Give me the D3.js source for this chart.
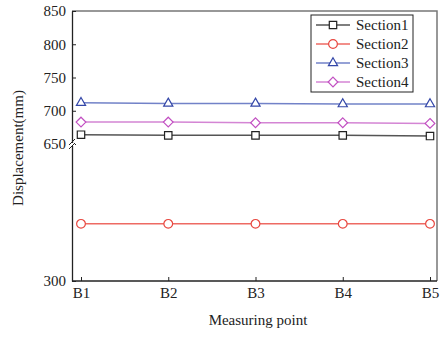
<!DOCTYPE html>
<html>
<head>
<meta charset="utf-8">
<script src="https://cdn.jsdelivr.net/npm/d3@7"></script>
<style>
  body { margin: 0; background: #fff; }
</style>
</head>
<body>
<svg width="444" height="339"></svg>
<script>
const points = ["B1", "B2", "B3", "B4", "B5"];
const section1 = [664, 663, 663, 663, 662];
const section2 = [446, 446, 446, 446, 446];
const section3 = [712, 711, 711, 710, 710];
const section4 = [683, 683, 682, 682, 681];
const upperTicks = [650, 700, 750, 800, 850];
const lowerTicks = [300];

const serif = "'Liberation Serif', 'Times New Roman', serif";

const series = [
  { name: "Section1", values: section1, color: "#222", line: "#555", shape: d3.symbolSquare, size: 55 },
  { name: "Section2", values: section2, color: "#e8473f", line: "#ee6a63", shape: d3.symbolCircle, size: 60 },
  { name: "Section3", values: section3, color: "#3447a8", line: "#7282c8", shape: d3.symbolTriangle2, size: 60 },
  { name: "Section4", values: section4, color: "#c24fc2", line: "#d485d4", shape: d3.symbolDiamond2, size: 60 },
];

const plotLeft = 72, plotRight = 437, plotTop = 11, plotBottom = 281, breakY = 144;

const svg = d3.select("svg");

const x = d3.scalePoint().domain(points).range([81, 430]);
const yUp = d3.scaleLinear().domain([650, 850]).range([breakY, plotTop]);
const yLow = d3.scaleLinear().domain([300, 650]).range([plotBottom, breakY]);
const y = (v) => (v >= 650 ? yUp(v) : yLow(v));

const styleAxis = (g) => {
  g.attr("font-family", serif);
  g.select(".domain").attr("stroke", "#222").attr("stroke-width", 1.3);
  g.selectAll(".tick line").attr("stroke", "#222");
  g.selectAll("text").attr("font-size", 15).attr("fill", "#222").attr("font-family", serif);
};

// frame: top and right in grey
svg.append("path")
  .attr("d", `M${plotLeft},${plotTop}H${plotRight}V${plotBottom}`)
  .attr("fill", "none")
  .attr("stroke", "#777")
  .attr("stroke-width", 1.5);

// x axis
svg.append("g")
  .attr("transform", `translate(0,${plotBottom})`)
  .call(d3.axisBottom(x).tickSizeInner(-4).tickSizeOuter(0).tickPadding(6))
  .call(styleAxis)
  .call((g) => g.select(".domain").attr("d", `M${plotLeft},0H${plotRight}`));

// y axis, upper part
svg.append("g")
  .attr("transform", `translate(${plotLeft},0)`)
  .call(d3.axisLeft(yUp).tickValues(upperTicks).tickSizeInner(-4).tickSizeOuter(0).tickPadding(6))
  .call(styleAxis);

// y axis, lower part
svg.append("g")
  .attr("transform", `translate(${plotLeft},0)`)
  .call(d3.axisLeft(yLow).tickValues(lowerTicks).tickSizeInner(-4).tickSizeOuter(0).tickPadding(6))
  .call(styleAxis);

// break mark
svg.append("rect").attr("x", plotLeft - 3).attr("y", breakY - 1).attr("width", 6).attr("height", 3).attr("fill", "#fff");
[-2, 2].forEach((dy) => {
  svg.append("line")
    .attr("x1", plotLeft - 3).attr("y1", breakY + dy + 3)
    .attr("x2", plotLeft + 3).attr("y2", breakY + dy - 3)
    .attr("stroke", "#222").attr("stroke-width", 1);
});

const line = d3.line().x((d, i) => x(points[i])).y((d) => y(d));

series.forEach((s) => {
  svg.append("path")
    .datum(s.values)
    .attr("d", line)
    .attr("fill", "none")
    .attr("stroke", s.line)
    .attr("stroke-width", 1.5);
  svg.selectAll(null)
    .data(s.values)
    .enter()
    .append("path")
    .attr("transform", (d, i) => `translate(${x(points[i])},${y(d)})`)
    .attr("d", d3.symbol().type(s.shape).size(s.size))
    .attr("fill", "#fff")
    .attr("stroke", s.color)
    .attr("stroke-width", 1.2);
});

// legend
const legend = svg.append("g").attr("transform", "translate(311,15)");
legend.append("rect")
  .attr("width", 102).attr("height", 77)
  .attr("fill", "#fff").attr("stroke", "#222").attr("stroke-width", 1);
series.forEach((s, i) => {
  const ly = 10 + i * 19;
  legend.append("line")
    .attr("x1", 5).attr("x2", 39).attr("y1", ly).attr("y2", ly)
    .attr("stroke", s.line).attr("stroke-width", 1.5);
  legend.append("path")
    .attr("transform", `translate(22,${ly})`)
    .attr("d", d3.symbol().type(s.shape).size(s.size))
    .attr("fill", "#fff").attr("stroke", s.color).attr("stroke-width", 1.2);
  legend.append("text")
    .attr("x", 45).attr("y", ly).attr("dy", "0.35em")
    .attr("font-size", 15).attr("fill", "#222").attr("font-family", serif)
    .text(s.name);
});

// axis titles
svg.append("text")
  .attr("transform", "translate(18,148) rotate(-90)")
  .attr("text-anchor", "middle")
  .attr("dy", "0.35em")
  .attr("font-size", 15).attr("fill", "#222").attr("font-family", serif)
  .text("Displacement(mm)");

svg.append("text")
  .attr("x", 258).attr("y", 325)
  .attr("text-anchor", "middle")
  .attr("font-size", 15).attr("fill", "#222").attr("font-family", serif)
  .text("Measuring point");
</script>
</body>
</html>
